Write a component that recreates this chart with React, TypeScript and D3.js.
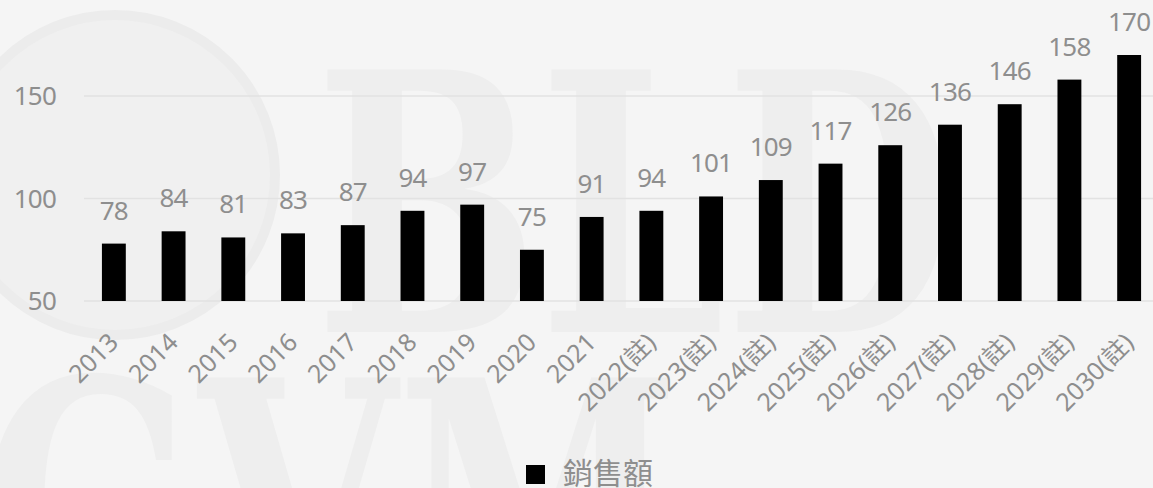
import React from "react";
import * as d3 from "d3";

const categories = ["2013","2014","2015","2016","2017","2018","2019","2020","2021","2022(註)","2023(註)","2024(註)","2025(註)","2026(註)","2027(註)","2028(註)","2029(註)","2030(註)"];
const sales = [78,84,81,83,87,94,97,75,91,94,101,109,117,126,136,146,158,170];
const yTicks = [50,100,150];
const seriesName = "銷售額";

const W = 1153, H = 488;
const FONT = "'Noto Sans', 'Noto Sans CJK TC', sans-serif";
const GRAY = "#8e8e8e";

export default function App() {
  const x = d3.scaleBand<string>().domain(categories).range([84, 1159]).paddingInner(0.6).paddingOuter(0.3);
  const y = d3.scaleLinear().domain([50, 100]).range([301, 198.5]);
  return (
    <svg width={W} height={H} style={{ position: "absolute", left: 0, top: 0, background: "#f5f5f5" }} fontFamily={FONT}>
      <rect x={0} y={0} width={W} height={H} fill="#f5f5f5" />
      {/* watermark */}
      <g fill="#eeeeee" stroke="none" aria-hidden="true">
        <circle cx={115} cy={175} r={160} fill="#f0f0f0" stroke="#ececec" strokeWidth={10} />
        <text x={315} y={332} fontFamily="'DejaVu Serif', serif" fontWeight="bold" fontSize={360} textLength={640} lengthAdjust="spacingAndGlyphs">BLD</text>
        <text x={-20} y={640} fontFamily="'DejaVu Serif', serif" fontWeight="bold" fontSize={360} textLength={700} lengthAdjust="spacingAndGlyphs">GVM</text>
      </g>
      {yTicks.map(t => (
        <g key={t}>
          <line x1={84} x2={W} y1={y(t)} y2={y(t)} stroke="#e2e2e2" strokeWidth={1.3} />
          <text x={56} y={y(t)} dy="0.35em" textAnchor="end" fill={GRAY} fontSize={26} letterSpacing={-0.8}>{t}</text>
        </g>
      ))}
      {categories.map((c, i) => (
        <g key={c}>
          <rect x={x(c)} y={y(sales[i])} width={x.bandwidth()} height={y(50) - y(sales[i])} fill="#000" />
          <text x={x(c)! + x.bandwidth() / 2} y={y(sales[i]) - 24} textAnchor="middle" fill={GRAY} fontSize={26} letterSpacing={-0.8}>{sales[i]}</text>
          <text transform={`translate(${x(c)! + x.bandwidth() / 2 + 6},${344}) rotate(-45)`} textAnchor="end" fill={GRAY} fontSize={25}>{c}</text>
        </g>
      ))}
      <rect x={526} y={465} width={19} height={19} fill="#000" />
      <text x={563} y={484} fill={GRAY} fontSize={30} fontFamily="'Noto Sans CJK TC', sans-serif">{seriesName}</text>
    </svg>
  );
}
